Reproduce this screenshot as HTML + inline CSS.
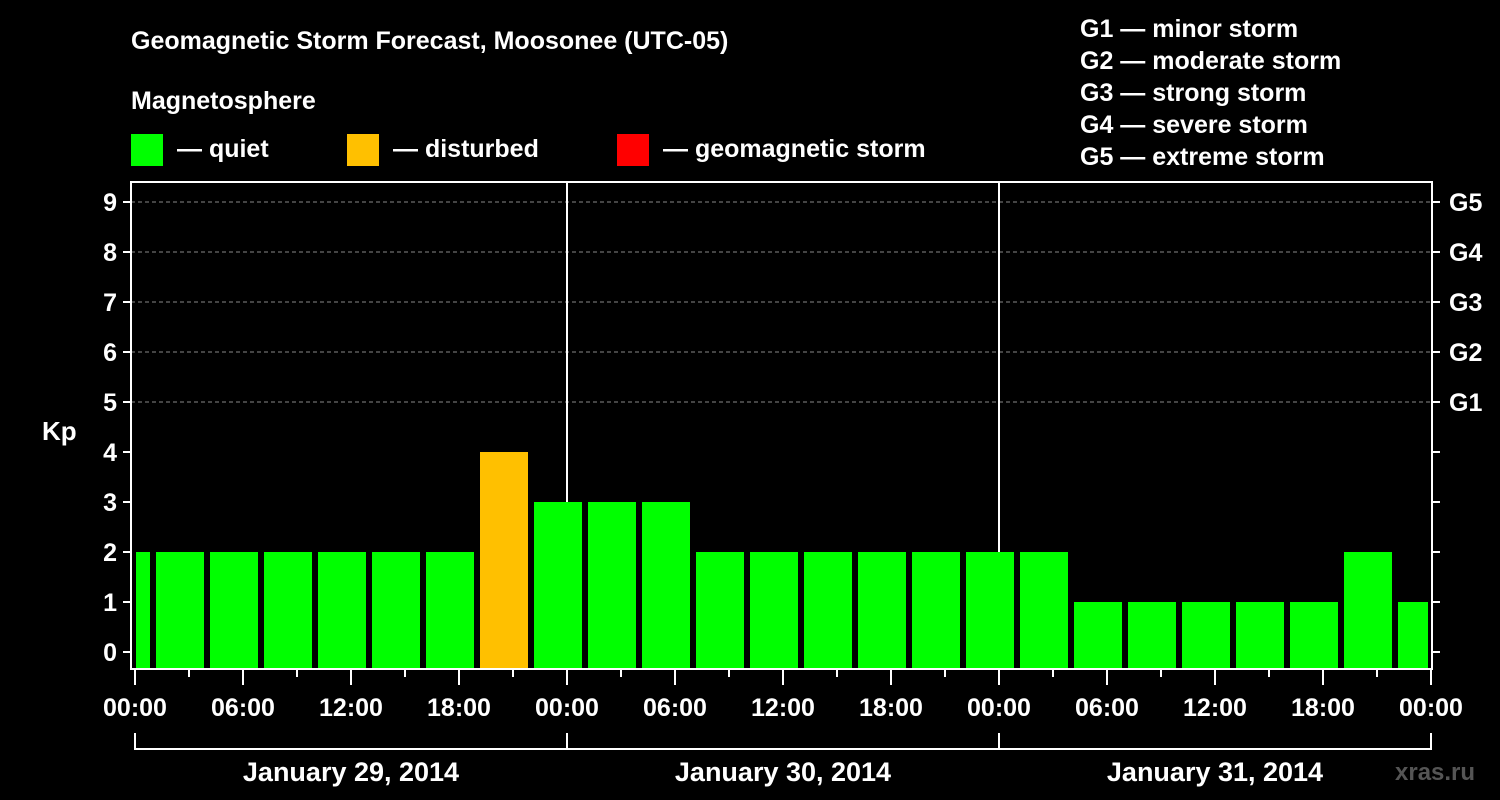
<!DOCTYPE html>
<html><head><meta charset="utf-8"><style>
html,body{margin:0;padding:0;background:#000;}
svg{display:block;font-family:"Liberation Sans",Arial,sans-serif;font-weight:bold;}
</style></head><body>
<svg id="chart" width="1500" height="800" viewBox="0 0 1500 800" xmlns="http://www.w3.org/2000/svg">
<rect x="0" y="0" width="1500" height="800" fill="#000"/>
<text x="131" y="49" fill="#fff" font-size="25">Geomagnetic Storm Forecast, Moosonee (UTC-05)</text>
<text x="131" y="109" fill="#fff" font-size="25">Magnetosphere</text>
<g><rect x="131" y="134" width="32" height="32" fill="#00ff00"/><text x="177" y="157" fill="#fff" font-size="25">— quiet</text></g>
<g><rect x="347" y="134" width="32" height="32" fill="#ffc000"/><text x="393" y="157" fill="#fff" font-size="25">— disturbed</text></g>
<g><rect x="617" y="134" width="32" height="32" fill="#ff0000"/><text x="663" y="157" fill="#fff" font-size="25">— geomagnetic storm</text></g>
<g fill="#fff" font-size="25">
<text x="1080" y="37">G1 — minor storm</text>
<text x="1080" y="69">G2 — moderate storm</text>
<text x="1080" y="101">G3 — strong storm</text>
<text x="1080" y="133">G4 — severe storm</text>
<text x="1080" y="165">G5 — extreme storm</text>
</g>
<text x="42" y="440" fill="#fff" font-size="26">Kp</text>
<text x="1395" y="780" fill="#555" font-size="24">xras.ru</text>
<g id="grid"></g>
<g id="bars"></g>
<g id="axes"></g>
</svg>
<script>
const kpValues=[2,2,2,2,2,2,2,4,3,3,3,2,2,2,2,2,2,2,1,1,1,1,1,2,1];
const startHours=[-2,1,4,7,10,13,16,19,22,25,28,31,34,37,40,43,46,49,52,55,58,61,64,67,70];
const dayLabels=["January 29, 2014","January 30, 2014","January 31, 2014"];
const hourLabels=["00:00","06:00","12:00","18:00"];
const stormLabels=["G1","G2","G3","G4","G5"];
const NS="http://www.w3.org/2000/svg";
const X0=135,PXH=18,TOTAL=72,Y0=652,PXK=50,PL=131,PR=1432,PT=182,PB=669;
const xs=h=>X0+Math.max(0,Math.min(TOTAL,h))*PXH;
const ys=k=>Y0-k*PXK;
function mk(t,a,p){const e=document.createElementNS(NS,t);for(const k in a)e.setAttribute(k,a[k]);p.appendChild(e);return e;}
const grid=document.getElementById('grid'),bars=document.getElementById('bars'),axes=document.getElementById('axes');
for(let k=5;k<=9;k++){const l=mk('line',{x1:PL,x2:PR,y1:ys(k),y2:ys(k),stroke:'#888','stroke-dasharray':'4,3','stroke-width':1},grid);

}
for(let d=1;d<dayLabels.length;d++){const l=mk('line',{x1:xs(d*24),x2:xs(d*24),y1:PT,y2:PB,stroke:'#fff','stroke-width':2},grid);

}
kpValues.forEach((v,i)=>{const a=xs(startHours[i]),b=xs(startHours[i]+3);
const c=v>=5?'#ff0000':(v>=4?'#ffc000':'#00ff00');
const x1=a+(startHours[i]<0?1:3),x2=b-3;
const r=mk('rect',{x:x1,y:ys(v),width:x2-x1,height:PB-1-ys(v),fill:c},bars);

});
const fr=mk('rect',{x:PL,y:PT,width:PR-PL,height:PB-PT,fill:'none',stroke:'#fff','stroke-width':2},axes);


for(let k=0;k<=9;k++){mk('line',{x1:PL-8,x2:PL,y1:ys(k),y2:ys(k),stroke:'#fff','stroke-width':2},axes);
mk('line',{x1:PR,x2:PR+8,y1:ys(k),y2:ys(k),stroke:'#fff','stroke-width':2},axes);
const t=mk('text',{x:PL-14,y:ys(k)+9,fill:'#fff','font-size':25,'text-anchor':'end'},axes);t.textContent=k;

}
stormLabels.forEach((g,i)=>{const t=mk('text',{x:1449,y:ys(5+i)+9,fill:'#fff','font-size':25},axes);t.textContent=g;

});
for(let h=0;h<=TOTAL;h+=3){const major=h%6===0;mk('line',{x1:xs(h),x2:xs(h),y1:PB,y2:PB+(major?16:8),stroke:'#fff','stroke-width':2},axes);
if(major){const t=mk('text',{x:xs(h),y:716,fill:'#fff','font-size':25,'text-anchor':'middle'},axes);t.textContent=hourLabels[(h%24)/6];

}}
mk('path',{d:`M${xs(0)},733 V749 H${xs(TOTAL)} V733`,stroke:'#fff','stroke-width':2,fill:'none'},axes);
dayLabels.forEach((d,i)=>{mk('line',{x1:xs(i*24),x2:xs(i*24),y1:733,y2:749,stroke:'#fff','stroke-width':2},axes);
const t=mk('text',{x:xs(i*24+12),y:781,fill:'#fff','font-size':27,'text-anchor':'middle'},axes);t.textContent=d;

});
</script>
</body></html>
